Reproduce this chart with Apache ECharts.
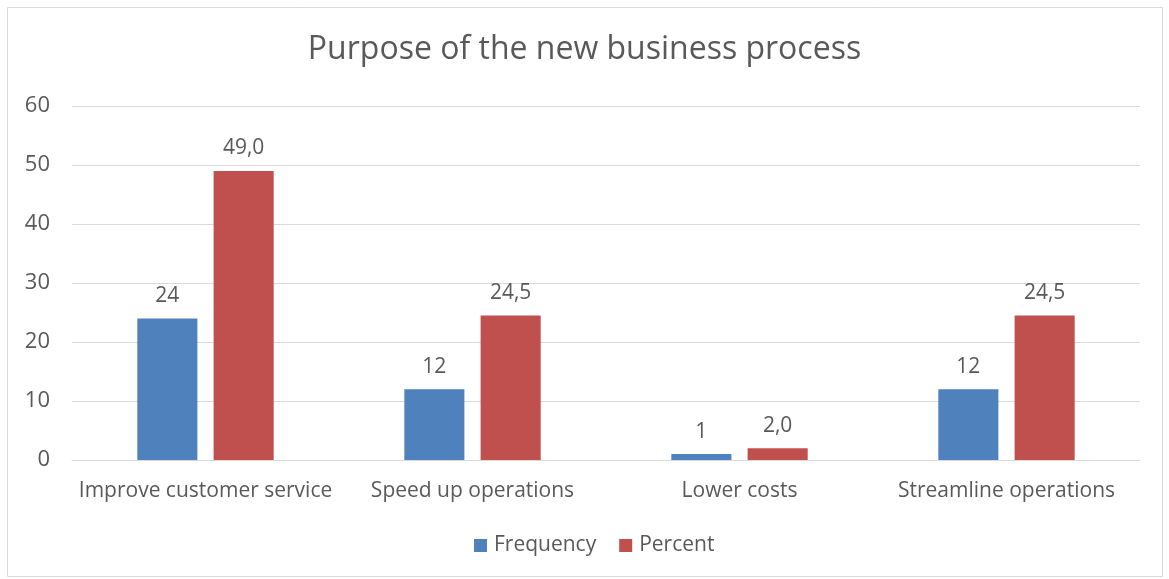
<!DOCTYPE html>
<html><head><meta charset="utf-8">
<script src="https://cdn.jsdelivr.net/npm/echarts@6/dist/echarts.min.js"></script>
<style>html,body{margin:0;padding:0;background:#fff}#c{width:1169px;height:579px}</style>
</head><body><div id="c"></div>
<script>
const categories = ["Improve customer service", "Speed up operations", "Lower costs", "Streamline operations"];
const frequency = [24, 12, 1, 12];
const percent = [49.0, 24.5, 2.0, 24.5];
const seriesNames = ["Frequency", "Percent"];

const font = "'Open Sans', 'Liberation Sans', sans-serif";
const txt = "#595959";
const chart = echarts.init(document.getElementById('c'), null, {renderer: 'canvas'});
chart.setOption({
  animation: false,
  textStyle: {fontFamily: font, color: txt},
  title: {text: "Purpose of the new business process", left: 'center', top: 29,
    textStyle: {fontFamily: font, fontSize: 32, fontWeight: 'normal', color: txt}},
  graphic: [{type: 'rect', shape: {x: 7.5, y: 7.5, width: 1155, height: 569},
    style: {fill: 'none', stroke: '#D9D9D9', lineWidth: 1}, silent: true}],
  legend: {bottom: 18, left: 469, itemWidth: 13, itemHeight: 13, itemGap: 23,
    icon: 'rect', data: seriesNames,
    textStyle: {fontFamily: font, fontSize: 21, color: txt, padding: [0, 0, 0, 2]}},
  grid: {left: 72, right: 29, top: 106, bottom: 119, containLabel: false},
  xAxis: {type: 'category', data: categories,
    axisLine: {lineStyle: {color: '#D9D9D9', width: 1}}, axisTick: {show: false},
    axisLabel: {fontFamily: font, fontSize: 21, color: txt, margin: 21, interval: 0}},
  yAxis: {type: 'value', min: 0, max: 60, interval: 10,
    axisLine: {show: false}, axisTick: {show: false},
    splitLine: {lineStyle: {color: '#D9D9D9', width: 1}},
    axisLabel: {fontFamily: font, fontSize: 22, color: txt, margin: 22}},
  series: [
    {name: seriesNames[0], type: 'bar', data: frequency, barWidth: '22.5%', barGap: '27%',
     itemStyle: {color: '#4F81BD'},
     label: {show: true, position: 'top', distance: 12, fontFamily: font, fontSize: 21, color: txt,
       formatter: p => String(p.value)}},
    {name: seriesNames[1], type: 'bar', data: percent, barWidth: '22.5%',
     itemStyle: {color: '#C0504D'},
     label: {show: true, position: 'top', distance: 12, fontFamily: font, fontSize: 21, color: txt,
       formatter: p => p.value.toFixed(1).replace('.', ',')}}
  ]
});
</script></body></html>
